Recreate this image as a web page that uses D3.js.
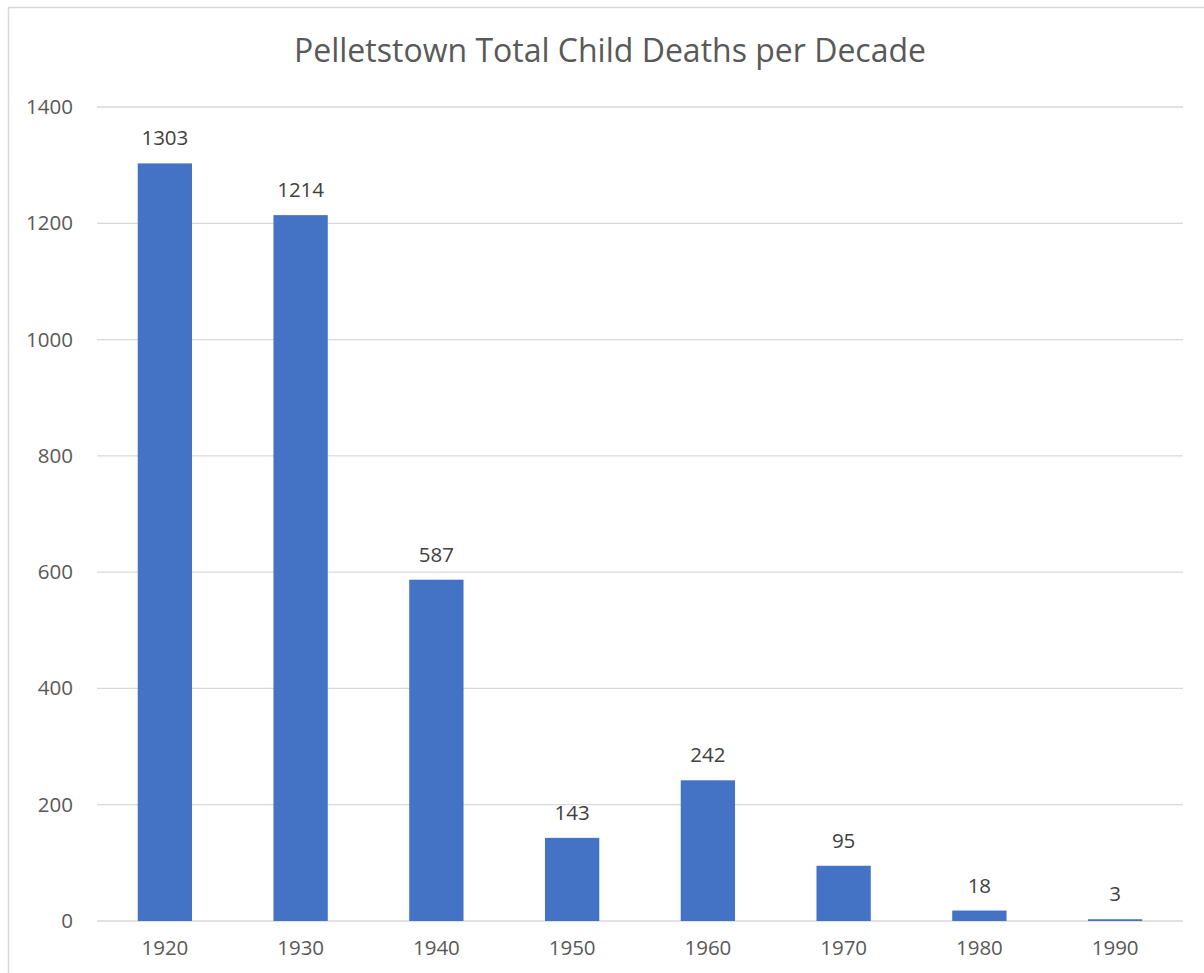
<!DOCTYPE html>
<html>
<head>
<meta charset="utf-8">
<script src="https://cdn.jsdelivr.net/npm/d3@7"></script>
<style>
  html, body { margin: 0; padding: 0; background: #fff; }
  svg { display: block; }
  text { font-family: "Open Sans", "Noto Sans", sans-serif; }
</style>
</head>
<body>
<svg id="chart" width="1204" height="973"></svg>
<script>
// Decades and total child deaths recorded in each
const decades = ["1920", "1930", "1940", "1950", "1960", "1970", "1980", "1990"];
const deaths = [1303, 1214, 587, 143, 242, 95, 18, 3];
const yTicks = [0, 200, 400, 600, 800, 1000, 1200, 1400];
const chartTitle = "Pelletstown Total Child Deaths per Decade";

const svg = d3.select("#chart");
const W = 1204, H = 973;
const plot = { left: 97, right: 1183, top: 107, bottom: 921 };
const FONT = "'Open Sans', 'Noto Sans', sans-serif";

// Outer chart frame (extends past the right and bottom edges)
svg.append("rect")
  .attr("x", 8.5).attr("y", 7.5)
  .attr("width", W + 20).attr("height", H + 20)
  .attr("fill", "#fff").attr("stroke", "#d9d9d9").attr("stroke-width", 1.5);

svg.append("text")
  .attr("x", 610).attr("y", 62)
  .attr("text-anchor", "middle")
  .attr("font-size", 32)
  .attr("fill", "#595959")
  .text(chartTitle);

const x = d3.scaleBand().domain(decades).range([plot.left, plot.right]).padding(0);
const y = d3.scaleLinear().domain([0, 1400]).range([plot.bottom, plot.top]);

// Horizontal gridlines
svg.append("g")
  .selectAll("line")
  .data(yTicks)
  .join("line")
  .attr("x1", plot.left).attr("x2", plot.right)
  .attr("y1", d => y(d)).attr("y2", d => y(d))
  .attr("stroke", "#d9d9d9").attr("stroke-width", 1.3);

// Y axis labels
const yAxis = d3.axisLeft(y).tickValues(yTicks).tickFormat(d3.format("d")).tickSize(0).tickPadding(0);
const gy = svg.append("g").attr("transform", `translate(73,0)`).call(yAxis);
gy.select(".domain").remove();
gy.selectAll("text")
  .attr("font-size", 20.5).attr("fill", "#595959")
  .attr("font-family", FONT);

// X axis labels
const xAxis = d3.axisBottom(x).tickSize(0).tickPadding(0);
const gx = svg.append("g").attr("transform", `translate(0,${plot.bottom + 19})`).call(xAxis);
gx.select(".domain").remove();
gx.selectAll("text")
  .attr("font-size", 20.5).attr("fill", "#595959")
  .attr("dy", "0.71em")
  .attr("font-family", FONT);

// Bars
const barW = x.bandwidth() * 0.4;
const rows = decades.map((d, i) => ({ d, v: deaths[i] }));
svg.append("g")
  .selectAll("rect")
  .data(rows)
  .join("rect")
  .attr("x", r => x(r.d) + (x.bandwidth() - barW) / 2)
  .attr("width", barW)
  .attr("y", r => y(r.v))
  .attr("height", r => y(0) - y(r.v))
  .attr("fill", "#4472c4");

// Value labels above bars
svg.append("g")
  .selectAll("text")
  .data(rows)
  .join("text")
  .attr("x", r => x(r.d) + x.bandwidth() / 2)
  .attr("y", r => y(r.v) - 18)
  .attr("text-anchor", "middle")
  .attr("font-size", 20.5)
  .attr("fill", "#404040")
  .text(r => r.v);
</script>
</body>
</html>
